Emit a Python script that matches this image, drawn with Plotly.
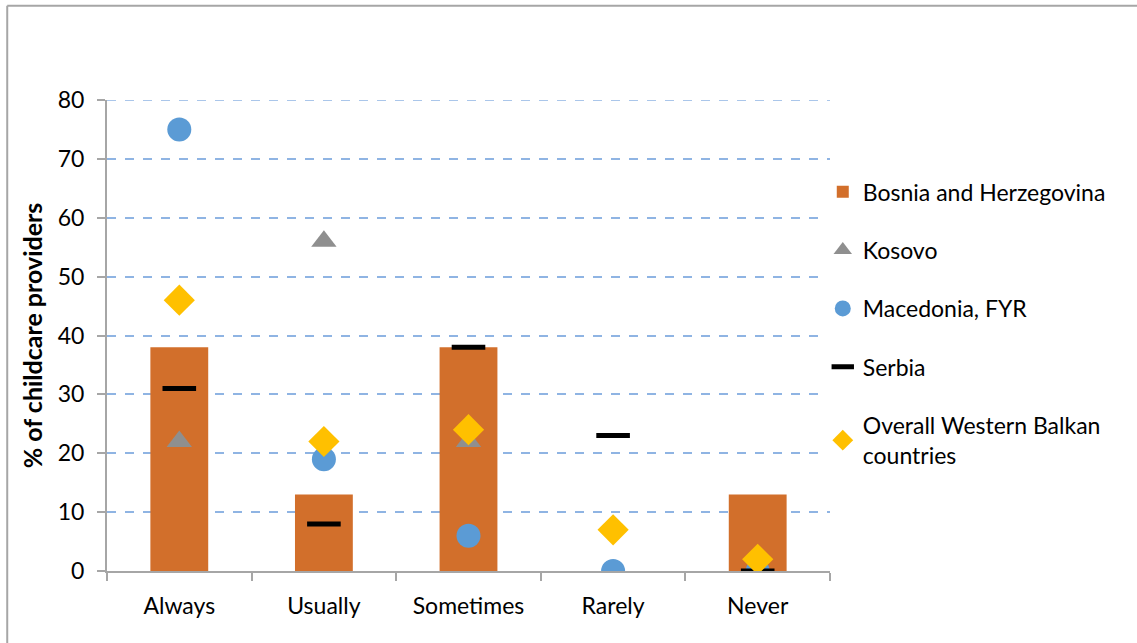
import plotly.graph_objects as go

categories = ["Always", "Usually", "Sometimes", "Rarely", "Never"]
bosnia = [38, 13, 38, 0, 13]
kosovo = [22, 56, 22, 0, 0]
macedonia = [75, 19, 6, 0, 0]
serbia = [31, 8, 38, 23, 0]
overall = [46, 22, 24, 7, 2]
y_ticks = [0, 10, 20, 30, 40, 50, 60, 70, 80]

FONT = "Lato, 'Open Sans', sans-serif"
FS = 23
GRID = "#8FB4E3"

fig = go.Figure()
fig.add_trace(go.Bar(
    x=categories, y=bosnia, name="Bosnia and Herzegovina",
    marker=dict(color="#D26F2B", line=dict(width=0)), width=0.4,
    legendgroup="a",
))
fig.add_trace(go.Scatter(
    x=categories, y=kosovo, name="Kosovo", mode="markers",
    marker=dict(symbol="triangle-up", size=22, color="#8F8F8F"),
    legendgroup="b",
))
fig.add_trace(go.Scatter(
    x=categories, y=macedonia, name="Macedonia, FYR", mode="markers",
    marker=dict(symbol="circle", size=24, color="#5B9BD5"),
    legendgroup="c",
))
fig.add_trace(go.Scatter(
    x=categories, y=serbia, name="Serbia", mode="markers",
    marker=dict(symbol="line-ew", size=24, color="#000000",
                line=dict(width=5, color="#000000")),
    legendgroup="d",
))
fig.add_trace(go.Scatter(
    x=categories, y=overall, name="Overall Western Balkan<br>countries", mode="markers",
    marker=dict(symbol="diamond", size=24, color="#FFC000"),
    legendgroup="e",
))

fig.update_layout(
    width=1137, height=643,
    margin=dict(l=107, r=307, t=100, b=72),
    paper_bgcolor="white", plot_bgcolor="white",
    font=dict(family=FONT, size=FS, color="#000000"),
    showlegend=True,
    legend=dict(
        x=0.99, y=0.851, xanchor="left", yanchor="top",
        traceorder="grouped", tracegroupgap=25.5,
        font=dict(family=FONT, size=FS),
        itemsizing="trace",
    ),
    xaxis=dict(
        type="category", range=[-0.5, 4.5],
        showline=True, linecolor="#A6A6A6", linewidth=2,
        ticks="outside", ticklen=8, tickcolor="#A6A6A6", tickwidth=2,
        tickson="boundaries", showgrid=False,
        ticklabelstandoff=13,
        tickfont=dict(family=FONT, size=FS),
    ),
    yaxis=dict(
        range=[0, 80], tickvals=y_ticks,
        showline=True, linecolor="#A6A6A6", linewidth=2,
        ticks="outside", ticklen=8, tickcolor="#A6A6A6", tickwidth=2,
        showgrid=True, gridcolor=GRID, gridwidth=1.5, griddash="dash",
        zeroline=False, ticklabelstandoff=8,
        tickfont=dict(family=FONT, size=FS),
        title=dict(text="<b>% of childcare providers</b>", font=dict(family=FONT, size=25), standoff=8),
    ),
    shapes=[
        # top gridline at the upper end of the value range
        dict(type="line", xref="paper", yref="y", x0=0, x1=1, y0=80, y1=80, layer="below",
             line=dict(color=GRID, width=1.5, dash="dash")),
        # outer chart border
        dict(type="line", xref="paper", yref="paper", x0=-0.138, x1=1.45, y0=1.2, y1=1.2,
             line=dict(color="#A6A6A6", width=2)),
        dict(type="line", xref="paper", yref="paper", x0=-0.138, x1=-0.138, y0=1.2, y1=-0.2,
             line=dict(color="#A6A6A6", width=2)),
    ],
)

fig.write_html("out.html")
